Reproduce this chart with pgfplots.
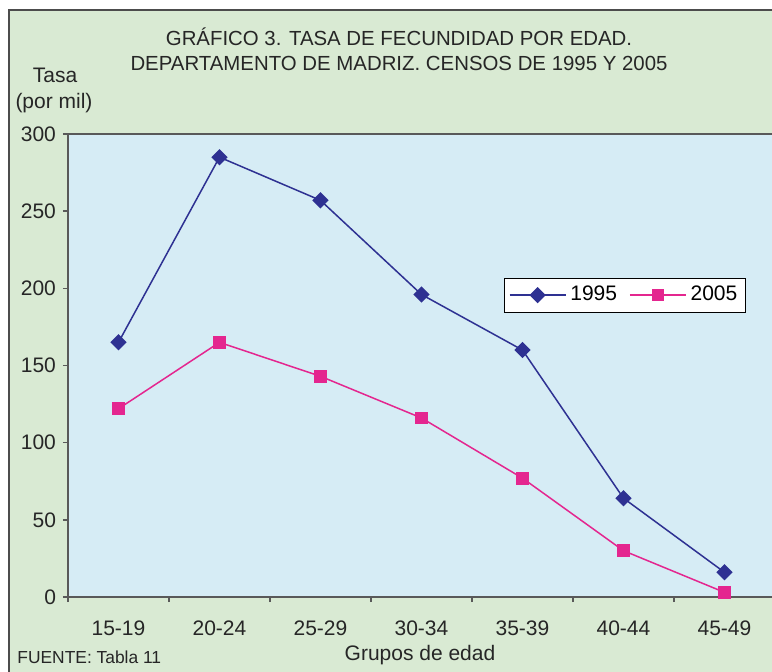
\documentclass[border=0pt]{standalone}
\usepackage{fontspec}
\setmainfont{Liberation Sans}
\usepackage{pgfplots}
\pgfplotsset{compat=1.18}
\definecolor{bggreen}{RGB}{217,234,211}
\definecolor{plotblue}{RGB}{214,236,245}
\definecolor{c95}{RGB}{46,49,146}
\definecolor{c05}{RGB}{228,38,143}
\begin{document}
\begin{tikzpicture}[x=0.5pt,y=0.5pt]
\path[use as bounding box] (0,0) rectangle (772,671);
\fill[white] (0,0) rectangle (772,671);
\filldraw[fill=bggreen, draw=black!70, line width=1.1pt] (9,-20) rectangle (800,661);
\begin{axis}[
  at={(34pt,37pt)}, anchor=south west,
  scale only axis, width=353.5pt, height=231.5pt,
  xmin=-0.5, xmax=6.5, ymin=0, ymax=300,
  axis background/.style={fill=plotblue},
  axis line style={draw=black!65, line width=0.9pt},
  xtick={0,...,6},
  xticklabels={15-19,20-24,25-29,30-34,35-39,40-44,45-49},
  minor xtick={-0.5,0.5,...,6.5},
  ytick={0,50,...,300},
  tick align=outside,
  xtick pos=bottom, ytick pos=left,
  major tick length=2.5pt, minor tick length=2.5pt,
  major x tick style={draw=none},
  minor x tick style={draw=black!65, line width=0.8pt},
  y tick style={draw=black!65, line width=0.8pt},
  /pgf/number format/assume math mode=true,
  tick label style={font=\fontsize{10.5}{12}\selectfont, text=black!85},
  xticklabel style={yshift=-6pt},
  legend columns=2,
  legend style={at={(0.788,0.652)}, anchor=center, draw=black, fill=white,
    font=\fontsize{10.5}{12}\selectfont, inner sep=2pt,
    /tikz/every even column/.append style={column sep=4pt}},
  legend image code/.code={\draw[mark repeat=2,mark phase=2,#1] plot coordinates {(0pt,0pt) (14pt,0pt) (28pt,0pt)};},
]
\addplot[c95, line width=0.75pt, mark=square*, mark size=2.5pt, mark options={fill=c95, draw=c95, rotate=45}]
  coordinates {(0,165) (1,285) (2,257) (3,196) (4,160) (5,64) (6,16)};
\addlegendentry{1995}
\addplot[c05, line width=0.75pt, mark=square*, mark size=2.8pt, mark options={fill=c05, draw=c05}]
  coordinates {(0,122) (1,165) (2,143) (3,116) (4,77) (5,30) (6,3)};
\addlegendentry{2005}
\end{axis}
\node[align=center, font=\fontsize{10.2}{12.5}\selectfont, text=black!85] at (399,622) {GRÁFICO 3. TASA DE FECUNDIDAD POR EDAD.\\DEPARTAMENTO DE MADRIZ. CENSOS DE 1995 Y 2005};
\node[font=\fontsize{10.5}{12}\selectfont, text=black!85] at (55,596) {Tasa};
\node[font=\fontsize{10.5}{12}\selectfont, text=black!85] at (54,568) {(por mil)};
\node[font=\fontsize{10.5}{12}\selectfont, text=black!85] at (420,16) {Grupos de edad};
\node[font=\fontsize{8.7}{10}\selectfont, text=black!85, anchor=west, inner sep=0pt] at (17,14) {FUENTE: Tabla 11};
\end{tikzpicture}
\end{document}
